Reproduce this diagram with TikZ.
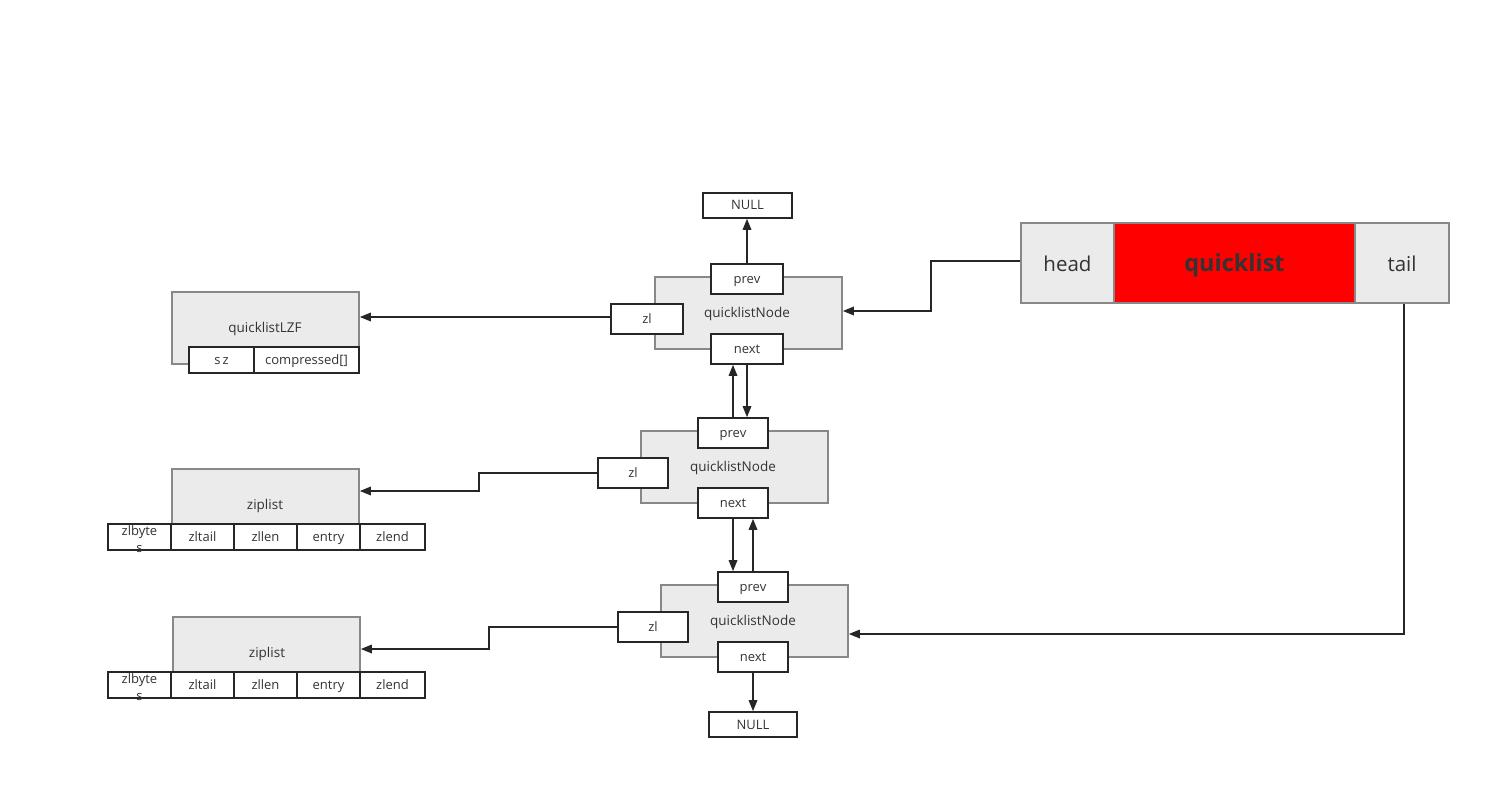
\documentclass[tikz,border=0pt]{standalone}
\usepackage{fontspec}
\setmainfont{Open Sans}
\usetikzlibrary{arrows.meta,calc}
\definecolor{txt}{HTML}{333333}
\definecolor{bg}{HTML}{EBEBEB}
\definecolor{bd}{HTML}{888888}
\definecolor{qred}{HTML}{FF0000}
\begin{document}
\begin{tikzpicture}[x=1pt,y=-1pt,
  bigbox/.style={draw=bd,fill=bg,line width=1.6pt,inner sep=0pt,minimum width=187pt,minimum height=72pt},
  sbox/.style={draw=black!85,fill=white,line width=1.6pt,inner sep=0pt,minimum width=72pt,minimum height=30pt,text=txt,font=\fontsize{13}{15}\selectfont,text height=10.5pt,text depth=1.5pt},
  cell/.style={draw=black!85,fill=white,line width=1.6pt,inner sep=0pt,minimum width=63pt,minimum height=26pt,text=txt,font=\fontsize{13}{15}\selectfont,text height=10.5pt,text depth=1.5pt},
  lbl/.style={text=txt,font=\fontsize{13.5}{15}\selectfont,inner sep=0pt,text height=10.5pt,text depth=1.5pt},
  qbox/.style={draw=bd,fill=bg,line width=1.6pt,inner sep=0pt,minimum height=80pt,text=txt,font=\fontsize{20.5}{24}\selectfont,text height=17pt,text depth=0pt},
  arr/.style={draw=black!85,line width=1.6pt,-{Triangle[length=11pt,width=8.5pt]}},
  ]
\useasboundingbox (0,0) rectangle (1511,799);

% node 1
\node[bigbox] (n1) at (748.5,313) {};
\node[lbl] (n1t) at (747,313) {quicklistNode};
\node[sbox] (n1prev) at (747,279) {prev};
\node[sbox] (n1next) at (747,349) {next};
\node[sbox] (n1zl) at (647,319) {zl};
\node[sbox,minimum width=89pt,minimum height=25pt] (null1) at (747.5,205.5) {NULL};

% node 2
\node[bigbox] (n2) at (734.5,467) {};
\node[lbl] (n2t) at (733,467) {quicklistNode};
\node[sbox,minimum width=70pt] (n2prev) at (733,433) {prev};
\node[sbox,minimum width=70pt] (n2next) at (733,503) {next};
\node[sbox,minimum width=70pt] (n2zl) at (633,473) {zl};

% node 3
\node[bigbox] (n3) at (754.5,621) {};
\node[lbl] (n3t) at (753,621) {quicklistNode};
\node[sbox,minimum width=70pt] (n3prev) at (753,587) {prev};
\node[sbox,minimum width=70pt] (n3next) at (753,657) {next};
\node[sbox,minimum width=70pt] (n3zl) at (653,627) {zl};
\node[sbox,minimum width=88pt,minimum height=25pt] (null2) at (753,724.5) {NULL};

% quicklistLZF
\node[bigbox] (lzf) at (265.5,328) {};
\node[lbl] (lzft) at (265,328) {quicklistLZF};
\node[cell,minimum width=65pt] (sz) at (221.5,360) {s\,z};
\node[cell,minimum width=105pt] (comp) at (306.5,360) {compressed[]};

% ziplist 1
\node[bigbox,minimum height=55pt] (zip1) at (265.5,496.5) {};
\node[lbl] (zip1t) at (265,505) {ziplist};
\node[cell] (z1a) at (139.5,537) {};
\node[lbl,align=center,font=\fontsize{13}{17}\selectfont,text height=,text depth=] (z1at) at (139.5,539) {zlbyte\\s};
\node[cell] (z1b) at (202.5,537) {zltail};
\node[cell] (z1c) at (265.5,537) {zllen};
\node[cell] (z1d) at (328.5,537) {entry};
\node[cell,minimum width=65pt] (z1e) at (392.5,537) {zlend};

% ziplist 2
\node[bigbox,minimum height=55pt] (zip2) at (266.5,644.5) {};
\node[lbl] (zip2t) at (267,653) {ziplist};
\node[cell] (z2a) at (139.5,685) {};
\node[lbl,align=center,font=\fontsize{13}{17}\selectfont,text height=,text depth=] (z2at) at (139.5,687) {zlbyte\\s};
\node[cell] (z2b) at (202.5,685) {zltail};
\node[cell] (z2c) at (265.5,685) {zllen};
\node[cell] (z2d) at (328.5,685) {entry};
\node[cell,minimum width=65pt] (z2e) at (392.5,685) {zlend};

% quicklist
\node[qbox,minimum width=93pt] (head) at (1067.5,263) {head};
\node[qbox,fill=qred,minimum width=241pt,font=\fontsize{23.5}{26}\selectfont\bfseries] (ql) at (1234.5,263) {quicklist};
\node[qbox,minimum width=94pt] (tail) at (1402,263) {tail};

% connectors
\draw[arr] (n1prev.north) -- (n1prev.north |- null1.south);
\draw[arr] (n1next.south) -- (n1next.south |- n2prev.north);
\draw[arr] (n2prev.north) -- (n2prev.north |- n1next.south);
\draw[arr] (n2next.south) -- (n2next.south |- n3prev.north);
\draw[arr] (n3prev.north) -- (n3prev.north |- n2next.south);
\draw[arr] (n3next.south) -- (null2.north);

\draw[arr] (n1zl.west |- 0,317) -- (lzf.east |- 0,317);
\draw[arr] (n2zl.west) -- (479,473) -- (479,491) -- (zip1.east |- 0,491);
\draw[arr] (n3zl.west) -- (489,627) -- (489,649) -- (zip2.east |- 0,649);

\draw[arr] (head.west |- 0,261) -- (931,261) -- (931,311) -- (n1.east |- 0,311);
\draw[arr] (tail.south -| 1404,0) -- (1404,634) -- (n3.east |- 0,634);
\end{tikzpicture}
\end{document}
